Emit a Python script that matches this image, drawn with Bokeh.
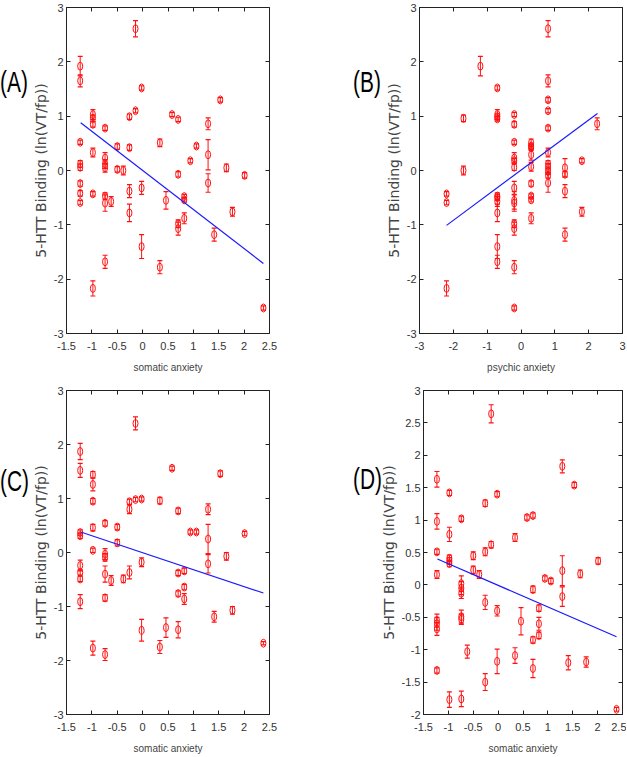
from bokeh.plotting import figure
from bokeh.layouts import column, row
from bokeh.models import FixedTicker, Range1d, Div, LinearAxis
from bokeh.embed import file_html
from bokeh.resources import INLINE

# ---------------- data ----------------
A_x = [-1.23, -1.23, -1.23, -1.23, -1.23, -1.23, -1.23, -1.23,
       -0.98, -0.98, -0.98, -0.98, -0.98, -0.98,
       -0.74, -0.74, -0.74, -0.74, -0.74, -0.74, -0.74,
       -0.62,
       -0.50, -0.50,
       -0.38,
       -0.26, -0.26, -0.26, -0.26,
       -0.14, -0.14,
       -0.02, -0.02, -0.02,
       0.34, 0.34,
       0.46,
       0.58,
       0.70, 0.70, 0.70, 0.70,
       0.82, 0.82, 0.82,
       0.94, 1.06,
       1.29, 1.29, 1.29,
       1.41, 1.53, 1.65, 1.77, 2.01, 2.38]
A_y = [1.92, 1.65, 0.52, 0.12, 0.06, -0.24, -0.42, -0.59,
       1.03, 0.96, 0.85, 0.33, -0.43, -2.17,
       0.78, 0.23, 0.12, 0.05, -0.47, -0.60, -1.68,
       -0.57,
       0.44, 0.02,
       0.00,
       0.99, 0.42, -0.38, -0.78,
       2.61, 1.10,
       1.52, -0.32, -1.40,
       0.51, -1.78,
       -0.55,
       1.03,
       0.94, -0.07, -0.98, -1.07,
       -0.48, -0.54, -0.88,
       0.18, 0.45,
       0.86, 0.29, -0.23,
       -1.18, 1.30, 0.05, -0.76, -0.09, -2.53]
A_err = [0.18, 0.11, 0.04, 0.06, 0.06, 0.05, 0.05, 0.04,
         0.09, 0.06, 0.05, 0.08, 0.04, 0.14,
         0.04, 0.10, 0.08, 0.08, 0.06, 0.15, 0.12,
         0.09,
         0.05, 0.05,
         0.08,
         0.05, 0.05, 0.12, 0.16,
         0.15, 0.04,
         0.04, 0.12, 0.22,
         0.07, 0.12,
         0.16,
         0.04,
         0.04, 0.05, 0.07, 0.12,
         0.04, 0.04, 0.10,
         0.04, 0.04,
         0.11, 0.28, 0.17,
         0.12, 0.04, 0.07, 0.08, 0.05, 0.04]
A_line_x = [-1.22, 2.38]
A_line_y = [0.88, -1.71]

B_x = [-2.2, -2.2, -2.2,
       -1.7, -1.7,
       -1.2,
       -0.7, -0.7, -0.7, -0.7, -0.7, -0.7, -0.7, -0.7, -0.7, -0.7,
       -0.2, -0.2, -0.2, -0.2, -0.2, -0.2, -0.2, -0.2, -0.2, -0.2, -0.2, -0.2, -0.2,
       0.3, 0.3, 0.3, 0.3, 0.3, 0.3, 0.3, 0.3, 0.3,
       0.8, 0.8, 0.8, 0.8, 0.8, 0.8, 0.8, 0.8, 0.8, 0.8, 0.8,
       1.3, 1.3, 1.3, 1.3,
       1.8, 1.8,
       2.25]
B_y = [-0.43, -0.59, -2.17,
       0.96, 0.00,
       1.92,
       1.52, 1.03, 0.99, 0.95, -0.47, -0.50, -0.57, -0.78, -1.40, -1.68,
       1.03, 0.85, 0.52, 0.23, 0.18, 0.06, -0.32, -0.55, -0.60, -0.98, -1.07, -1.78, -2.53,
       0.51, 0.45, 0.42, 0.29, 0.07, -0.24, -0.47, -0.54, -0.88,
       2.61, 1.65, 1.30, 1.10, 0.78, 0.33, 0.12, 0.05, -0.02, -0.09, -0.23,
       0.05, -0.07, -0.38, -1.18,
       0.18, -0.76,
       0.86]
B_err = [0.04, 0.04, 0.14,
         0.06, 0.08,
         0.18,
         0.04, 0.09, 0.05, 0.04, 0.06, 0.05, 0.09, 0.16, 0.22, 0.12,
         0.04, 0.05, 0.04, 0.10, 0.04, 0.06, 0.12, 0.16, 0.15, 0.07, 0.12, 0.12, 0.04,
         0.07, 0.04, 0.05, 0.10, 0.08, 0.05, 0.04, 0.04, 0.10,
         0.15, 0.11, 0.04, 0.04, 0.04, 0.08, 0.06, 0.08, 0.05, 0.05, 0.17,
         0.17, 0.05, 0.12, 0.12,
         0.04, 0.08,
         0.11]
B_line_x = [-2.2, 2.26]
B_line_y = [-1.01, 1.05]

C_x = [-1.23, -1.23, -1.23, -1.23, -1.23, -1.23, -1.23, -1.23,
       -0.98, -0.98, -0.98, -0.98, -0.98, -0.98,
       -0.74, -0.74, -0.74, -0.74, -0.74, -0.74,
       -0.62,
       -0.50, -0.50,
       -0.38,
       -0.26, -0.26, -0.26,
       -0.14, -0.14,
       -0.02, -0.02, -0.02,
       0.34, 0.34,
       0.46,
       0.58,
       0.70, 0.70, 0.70, 0.70,
       0.82, 0.82, 0.82,
       0.94, 1.06,
       1.29, 1.29, 1.29,
       1.41, 1.53, 1.65, 1.77, 2.01, 2.38]
C_y = [1.87, 1.52, 0.37, 0.31, -0.24, -0.37, -0.49, -0.91,
       1.44, 1.26, 0.95, 0.46, 0.04, -1.77,
       0.54, -0.03, -0.09, -0.40, -0.84, -1.89,
       -0.52,
       0.47, 0.18,
       -0.49,
       0.94, 0.80, -0.37,
       2.39, 0.98,
       0.99, -0.18, -1.44,
       0.96, -1.75,
       -1.39,
       1.56,
       0.77, -0.38, -0.76, -1.43,
       -0.34, -0.64, -0.86,
       0.38, 0.38,
       0.80, 0.25, -0.21,
       -1.19, 1.46, -0.07, -1.07, 0.35, -1.68]
C_err = [0.15, 0.13, 0.05, 0.05, 0.10, 0.05, 0.05, 0.13,
         0.06, 0.12, 0.05, 0.06, 0.04, 0.13,
         0.05, 0.10, 0.07, 0.15, 0.06, 0.11,
         0.09,
         0.05, 0.06,
         0.07,
         0.05, 0.08, 0.12,
         0.12, 0.04,
         0.04, 0.08, 0.20,
         0.06, 0.12,
         0.18,
         0.04,
         0.05, 0.05, 0.05, 0.15,
         0.05, 0.05, 0.10,
         0.04, 0.04,
         0.10, 0.27, 0.17,
         0.10, 0.05, 0.07, 0.07, 0.04, 0.03]
C_line_x = [-1.22, 2.38]
C_line_y = [0.38, -0.75]

D_x = list(A_x)
D_y = [1.63, 0.98, 0.51, 0.16, -0.55, -0.60, -0.68, -1.32,
       1.42, 0.78, 0.41, 0.37, 0.33, -1.77,
       1.02, 0.02, -0.05, -0.13, -0.49, -0.53, -1.76,
       -1.03,
       0.45, 0.23,
       0.16,
       1.26, 0.51, -0.27, -1.50,
       2.64, 0.62,
       1.40, -0.40, -1.18,
       0.73, -1.09,
       -0.56,
       1.04,
       1.07, -0.07, -0.85, -1.29,
       -0.36, -0.60, -0.78,
       0.10, 0.06,
       1.83, 0.22, -0.18,
       -1.20, 1.54, 0.17, -1.19, 0.37, -1.92]
D_err = [0.12, 0.12, 0.04, 0.06, 0.10, 0.10, 0.10, 0.04,
         0.04, 0.11, 0.05, 0.05, 0.05, 0.12,
         0.04, 0.12, 0.10, 0.08, 0.10, 0.08, 0.12,
         0.10,
         0.06, 0.06,
         0.06,
         0.05, 0.06, 0.11, 0.13,
         0.14, 0.05,
         0.04, 0.08, 0.19,
         0.06, 0.12,
         0.21,
         0.04,
         0.04, 0.05, 0.05, 0.14,
         0.05, 0.10, 0.05,
         0.04, 0.04,
         0.10, 0.23, 0.15,
         0.11, 0.04, 0.06, 0.08, 0.05, 0.03]
D_line_x = [-1.22, 2.38]
D_line_y = [0.40, -0.80]

somatic_ticks = [-1.5, -1, -0.5, 0, 0.5, 1, 1.5, 2, 2.5]
somatic_tick_labels = ["-1.5", "-1", "-0.5", "0", "0.5", "1", "1.5", "2", "2.5"]
psychic_ticks = [-3, -2, -1, 0, 1, 2, 3]
psychic_tick_labels = ["-3", "-2", "-1", "0", "1", "2", "3"]
y_ticks_3 = [-3, -2, -1, 0, 1, 2, 3]
y_tick_labels_3 = ["-3", "-2", "-1", "0", "1", "2", "3"]
y_ticks_D = [-2, -1.5, -1, -0.5, 0, 0.5, 1, 1.5, 2, 2.5, 3]
y_tick_labels_D = ["-2", "-1.5", "-1", "-0.5", "0", "0.5", "1", "1.5", "2", "2.5", "3"]

panel_letters = ["(A)", "(B)", "(C)", "(D)"]
Y_LABEL = "5-HTT Binding (ln(VT/fp))"

SANS = "Liberation Sans"


def panel(x, y, err, lx, ly, xr, yr, xt, xtl, yt, ytl, xlabel, w, h, mb):
    p = figure(width=w, height=h, output_backend="svg", toolbar_location=None,
               x_range=Range1d(*xr), y_range=Range1d(*yr),
               min_border_left=mb[0], min_border_right=mb[1],
               min_border_top=mb[2], min_border_bottom=mb[3])
    p.grid.visible = False
    p.outline_line_color = "#222222"
    p.background_fill_color = "white"
    p.border_fill_color = None

    for ax, t, tl in ((p.xaxis[0], xt, xtl), (p.yaxis[0], yt, ytl)):
        ax.ticker = FixedTicker(ticks=t)
        ax.major_label_overrides = {v: s for v, s in zip(t, tl)}
        ax.major_tick_in = 4
        ax.major_tick_out = 0
        ax.minor_tick_line_color = None
        ax.axis_line_color = "#222222"
        ax.major_tick_line_color = "#222222"
        ax.major_label_text_font = SANS
        ax.major_label_text_font_size = "11px"
        ax.major_label_text_color = "#333333"
    p.xaxis[0].major_label_standoff = 8
    p.yaxis[0].major_label_standoff = 3
    p.xaxis[0].axis_label = xlabel
    p.xaxis[0].axis_label_text_font = SANS
    p.xaxis[0].axis_label_text_font_size = "10px"
    p.xaxis[0].axis_label_text_font_style = "normal"
    p.xaxis[0].axis_label_text_color = "#444444"
    p.xaxis[0].axis_label_standoff = 9
    p.yaxis[0].axis_label = Y_LABEL
    p.yaxis[0].axis_label_text_font = "DejaVu Sans"
    p.yaxis[0].axis_label_text_font_size = "14px"
    p.yaxis[0].axis_label_text_font_style = "normal"
    p.yaxis[0].axis_label_text_color = "#444444"
    p.yaxis[0].axis_label_standoff = 2

    # box-style tick marks on the top and right edges (no labels)
    for loc, t in (("right", yt), ("above", xt)):
        ax = LinearAxis(ticker=FixedTicker(ticks=t))
        ax.major_tick_in = 4
        ax.major_tick_out = 0
        ax.minor_tick_line_color = None
        ax.axis_line_color = None
        ax.major_tick_line_color = "#222222"
        ax.major_label_text_color = None
        ax.major_label_standoff = 0
        p.add_layout(ax, loc)

    lo = [yy - e for yy, e in zip(y, err)]
    hi = [yy + e for yy, e in zip(y, err)]
    red = "#ff1010"
    p.segment(x0=x, y0=lo, x1=x, y1=hi, line_color=red, line_width=1)
    p.scatter(x=x, y=lo, marker="dash", size=5, line_color=red, line_width=1.2)
    p.scatter(x=x, y=hi, marker="dash", size=5, line_color=red, line_width=1.2)
    p.ellipse(x=x, y=y, width=5, height=8, width_units="screen",
              height_units="screen", fill_color=None, line_color=red,
              line_width=1)
    p.line(lx, ly, line_color="#1a1aff", line_width=1.2)
    return p


def letter_div(text, w, h, top):
    html = ('<div style="position:relative; top:%dpx; font-family:\'Liberation Sans\';'
            ' font-size:29px; line-height:30px; color:#000; white-space:nowrap;'
            ' transform:scaleX(0.72); transform-origin:0 0;">%s</div>'
            % (top, text))
    return Div(text=html, width=w, height=h, margin=0,
               styles={"overflow": "visible"})


pA = panel(A_x, A_y, A_err, A_line_x, A_line_y, (-1.5, 2.5), (-3, 3),
           somatic_ticks, somatic_tick_labels, y_ticks_3, y_tick_labels_3,
           "somatic anxiety", 329, 378, (42, 84, 7, 45))
pB = panel(B_x, B_y, B_err, B_line_x, B_line_y, (-3, 3), (-3, 3),
           psychic_ticks, psychic_tick_labels, y_ticks_3, y_tick_labels_3,
           "psychic anxiety", 249, 378, (42, 4, 7, 45))
pC = panel(C_x, C_y, C_err, C_line_x, C_line_y, (-1.5, 2.5), (-3, 3),
           somatic_ticks, somatic_tick_labels, y_ticks_3, y_tick_labels_3,
           "somatic anxiety", 329, 378, (42, 84, 12, 42))
pD = panel(D_x, D_y, D_err, D_line_x, D_line_y, (-1.5, 2.5), (-2, 3),
           somatic_ticks, somatic_tick_labels, y_ticks_D, y_tick_labels_D,
           "somatic anxiety", 249, 378, (42, 4, 12, 42))

dA = letter_div(panel_letters[0], 24, 378, 67)
dB = letter_div(panel_letters[1], 24, 378, 67)
dC = letter_div(panel_letters[2], 24, 378, 88)
dD = letter_div(panel_letters[3], 24, 378, 86)

layout = column(row(dA, pA, dB, pB), row(dC, pC, dD, pD))
open("out.html", "w").write(file_html(layout, INLINE))
